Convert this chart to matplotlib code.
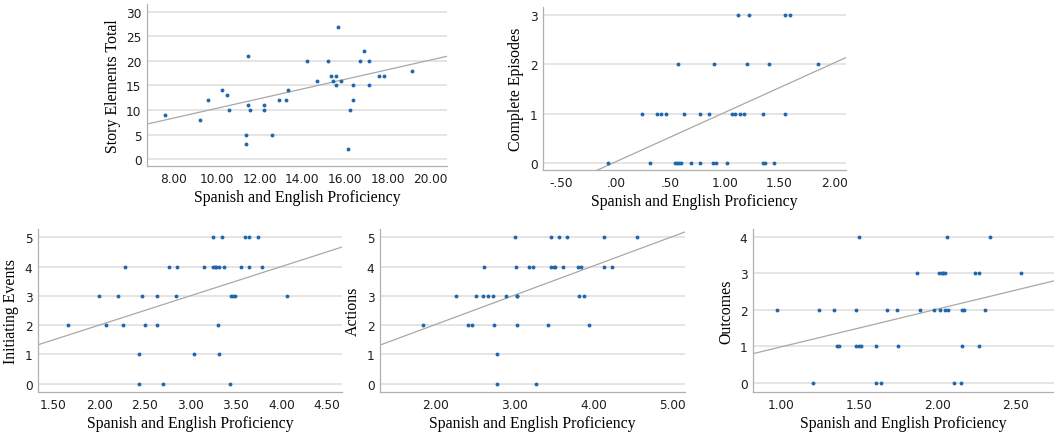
import matplotlib
matplotlib.use('Agg')
import matplotlib.pyplot as plt
import numpy as np

# panel 1: Story Elements Total
x1 = [7.58, 9.23, 9.57, 10.24, 10.46, 10.57, 11.35, 11.35, 11.46, 11.46, 11.57,
      12.22, 12.22, 12.56, 12.91, 13.23, 13.34, 14.23, 14.70, 15.21, 15.34, 15.45,
      15.57, 15.57, 15.68, 15.79, 16.13, 16.24, 16.35, 16.35, 16.69, 16.89, 17.13,
      17.13, 17.58, 17.80, 19.12]
y1 = [9, 8, 12, 14, 13, 10, 5, 3, 21, 11, 10,
      11, 10, 5, 12, 12, 14, 20, 16, 20, 17, 16,
      17, 15, 27, 16, 2, 10, 15, 12, 20, 22, 20,
      15, 17, 17, 18]

# panel 2: Complete Episodes
x2 = [1.12, 1.22, 1.55, 1.60,
      0.57, 0.90, 1.20, 1.40, 1.85,
      0.24, 0.38, 0.41, 0.46, 0.62, 0.77, 0.85, 1.06, 1.09, 1.14, 1.17, 1.35, 1.55,
      -0.07, 0.31, 0.54, 0.56, 0.58, 0.60, 0.69, 0.77, 0.89, 0.92, 1.02, 1.35, 1.37, 1.45]
y2 = [3] * 4 + [2] * 5 + [1] * 13 + [0] * 14

# panel 3: Initiating Events
x3 = [3.25, 3.35, 3.60, 3.64, 3.74,
      2.28, 2.77, 2.86, 3.15, 3.25, 3.27, 3.28, 3.32, 3.37, 3.56, 3.64, 3.79,
      2.00, 2.21, 2.47, 2.63, 2.84, 3.45, 3.47, 3.49, 4.06,
      1.66, 2.08, 2.26, 2.50, 2.63, 3.30,
      2.44, 3.04, 3.32,
      2.44, 2.70, 3.44]
y3 = [5] * 5 + [4] * 12 + [3] * 9 + [2] * 6 + [1] * 3 + [0] * 3

# panel 4: Actions
x4 = [3.01, 3.46, 3.57, 3.67, 4.14, 4.55,
      2.61, 3.02, 3.19, 3.24, 3.46, 3.50, 3.52, 3.62, 3.81, 3.84, 4.14, 4.24,
      2.26, 2.51, 2.60, 2.67, 2.73, 2.89, 3.03, 3.04, 3.82, 3.88,
      1.84, 2.41, 2.47, 2.74, 3.03, 3.42, 3.94,
      2.78,
      2.78, 3.27]
y4 = [5] * 6 + [4] * 12 + [3] * 10 + [2] * 7 + [1] * 1 + [0] * 2

# panel 5: Outcomes
x5 = [1.50, 2.06, 2.34,
      1.87, 2.01, 2.03, 2.04, 2.05, 2.24, 2.27, 2.54,
      0.97, 1.24, 1.34, 1.48, 1.68, 1.74, 1.89, 1.98, 2.02, 2.05, 2.07, 2.16, 2.17, 2.31,
      1.36, 1.37, 1.48, 1.50, 1.51, 1.61, 1.75, 2.16, 2.27,
      1.20, 1.61, 1.64, 2.11, 2.15]
y5 = [4] * 3 + [3] * 8 + [2] * 14 + [1] * 9 + [0] * 5

# fit lines (slope, intercept)
fits = [(0.985, 0.5), (1.005, 0.02), (1.0, 0.0), (1.0, 0.02), (1.03, -0.04)]

ylabels = ['Story Elements Total', 'Complete Episodes', 'Initiating Events',
           'Actions', 'Outcomes']
xticks = [[8, 10, 12, 14, 16, 18, 20], [-0.5, 0, 0.5, 1, 1.5, 2],
          [1.5, 2, 2.5, 3, 3.5, 4, 4.5], [2, 3, 4, 5], [1, 1.5, 2, 2.5]]
yticks = [[0, 5, 10, 15, 20, 25, 30], [0, 1, 2, 3], [0, 1, 2, 3, 4, 5],
          [0, 1, 2, 3, 4, 5], [0, 1, 2, 3, 4]]
xlims = [(6.74, 20.76), (-0.67, 2.11), (1.33, 4.665), (1.30, 5.16), (0.818, 2.75)]
ylims = [(-1.4, 31.6), (-0.15, 3.17), (-0.28, 5.28), (-0.28, 5.28), (-0.245, 4.21)]

W, H = 1054, 435
# axes boxes in pixels: left, top, right, bottom
boxes = [(147, 5, 447, 167), (543, 8, 846, 171), (38, 230, 342, 393),
         (380, 230, 685, 393), (753, 230, 1054, 393)]


def fmt(v):
    s = '%.2f' % v
    if s.startswith('0.'):
        s = s[1:]
    elif s.startswith('-0.'):
        s = '-' + s[2:]
    return s


fig = plt.figure(figsize=(W / 100, H / 100), dpi=100)
data = [(x1, y1), (x2, y2), (x3, y3), (x4, y4), (x5, y5)]

for i, (xs, ys) in enumerate(data):
    l, t, r, b = boxes[i]
    ax = fig.add_axes([l / W, 1 - b / H, (r - l) / W, (b - t) / H])
    ax.set_xlim(xlims[i])
    ax.set_ylim(ylims[i])
    ax.set_yticks(yticks[i])
    ax.set_xticks(xticks[i])
    ax.set_xticklabels([fmt(v) for v in xticks[i]])
    ax.grid(axis='y', color='#e3e3e3', lw=1.3)
    ax.set_axisbelow(True)
    for s in ['top', 'right']:
        ax.spines[s].set_visible(False)
    for s in ['left', 'bottom']:
        ax.spines[s].set_color('#b0b0b0')
        ax.spines[s].set_linewidth(0.9)
    ax.tick_params(length=0, labelsize=8.7, labelcolor='#1e1e1e', pad=4)
    xl = np.array(xlims[i])
    m, c = fits[i]
    ax.plot(xl, m * xl + c, color='#a8a8a8', lw=0.9, zorder=2)
    ax.plot(xs, ys, 'o', ms=2.8, color='#2167ac', mec='none', zorder=3)
    ax.set_xlabel('Spanish and English Proficiency', family='Liberation Serif',
                  fontsize=11.4, labelpad=3)
    ax.set_ylabel(ylabels[i], family='Liberation Serif', fontsize=11.4, labelpad=4)

plt.savefig('out.png', dpi=100)
